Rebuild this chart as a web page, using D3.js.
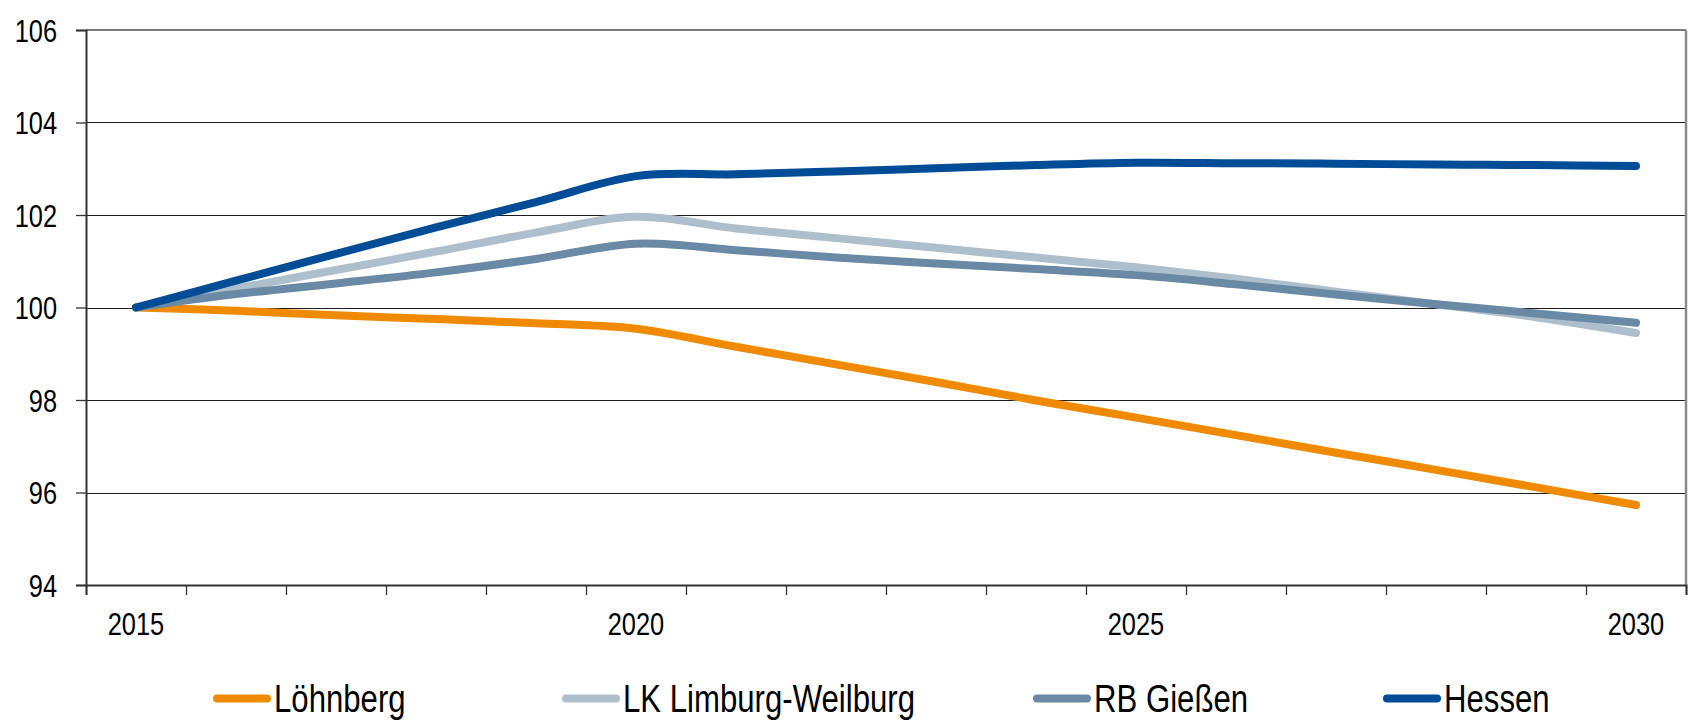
<!DOCTYPE html>
<html>
<head>
<meta charset="utf-8">
<script src="https://cdn.jsdelivr.net/npm/d3@7"></script>
<style>
  html, body { margin: 0; padding: 0; background: #fff; }
  svg { display: block; }
</style>
</head>
<body>
<svg id="chart" width="1690" height="721"></svg>
<script>
// ---------- data ----------
const years = [2015,2016,2017,2018,2019,2020,2021,2022,2023,2024,2025,2026,2027,2028,2029,2030];
const yearLabels = [2015, 2020, 2025, 2030];
const yTicks = [94, 96, 98, 100, 102, 104, 106];
const seriesNames = ["Löhnberg", "LK Limburg-Weilburg", "RB Gießen", "Hessen"];
const loehnberg = [100, 99.93, 99.83, 99.75, 99.66, 99.54, 99.15, 98.77, 98.39, 97.99, 97.62, 97.24, 96.86, 96.49, 96.11, 95.73];
const limburg   = [100, 100.41, 100.81, 101.21, 101.62, 101.96, 101.71, 101.50, 101.29, 101.08, 100.87, 100.62, 100.34, 100.07, 99.79, 99.45];
const giessen   = [100, 100.29, 100.52, 100.76, 101.05, 101.38, 101.24, 101.08, 100.95, 100.83, 100.70, 100.50, 100.28, 100.07, 99.87, 99.67];
const hessen    = [100, 100.58, 101.16, 101.73, 102.28, 102.84, 102.88, 102.94, 103.01, 103.08, 103.13, 103.12, 103.11, 103.09, 103.08, 103.06];
const seriesValues = [loehnberg, limburg, giessen, hessen];
const seriesColors = ["#F08A00", "#ADBFCD", "#6A89A4", "#004C96"];

// ---------- layout ----------
const plot = { left: 86, right: 1686, top: 30, bottom: 585 };
const legendX = [213, 562, 1033, 1383];   // left edge of each legend item
const legendY = 698.5;
const legendLineLen = 58;

const svg = d3.select("#chart");

// condensed look: Liberation Sans squeezed horizontally (Arial Narrow = 82% width)
const FONT = '"Liberation Sans", Arial, sans-serif';
const SX = 0.82;

function styleText(sel, size) {
  sel.style("font-family", FONT).style("font-size", size + "px").attr("fill", "#000");
}

// ---------- scales ----------
const x = d3.scaleBand().domain(years).range([plot.left, plot.right]).padding(0);
const xc = d => x(d) + x.bandwidth() / 2;
const xEdge = d3.scaleLinear().domain([years[0] - 0.5, years[years.length - 1] + 0.5]).range([plot.left, plot.right]);
const y = d3.scaleLinear().domain([94, 106]).range([plot.bottom, plot.top]);

// ---------- gridlines ----------
svg.append("g")
  .selectAll("line")
  .data(yTicks.filter(v => v > 94 && v < 106))
  .join("line")
  .attr("x1", plot.left).attr("x2", plot.right)
  .attr("y1", d => Math.round(y(d)) + 0.5).attr("y2", d => Math.round(y(d)) + 0.5)
  .attr("stroke", "#1e1e1e").attr("stroke-width", 1.1);

// plot border (top & right)
svg.append("line").attr("x1", plot.left).attr("x2", plot.right).attr("y1", y(106)).attr("y2", y(106))
  .attr("stroke", "#7a7a7a").attr("stroke-width", 2);
svg.append("line").attr("x1", plot.right).attr("x2", plot.right).attr("y1", y(106)).attr("y2", y(94))
  .attr("stroke", "#8a8a8a").attr("stroke-width", 2.5);

// ---------- y axis ----------
const yAxisG = svg.append("g").attr("transform", `translate(${plot.left},0)`)
  .call(d3.axisLeft(y).tickValues(yTicks).tickSize(10).tickPadding(19).tickFormat(d3.format("d")));
yAxisG.select(".domain").attr("stroke", "#333").attr("stroke-width", 2);
yAxisG.selectAll(".tick line").attr("stroke", "#333").attr("stroke-width", 1.3);
yAxisG.selectAll(".tick text").each(function () {
  const t = d3.select(this);
  styleText(t, 31);
  t.attr("x", -29 / SX).attr("dy", "0.36em").attr("transform", `scale(${SX},1)`);
});

// ---------- x axis: tick marks at category boundaries ----------
const edges = d3.range(years[0] - 0.5, years[years.length - 1] + 1, 1);
const xTickG = svg.append("g").attr("transform", `translate(0,${plot.bottom})`)
  .call(d3.axisBottom(xEdge).tickValues(edges).tickSize(10).tickFormat(""));
xTickG.select(".domain").attr("stroke", "#333").attr("stroke-width", 2);
xTickG.selectAll(".tick line").attr("stroke", "#333").attr("stroke-width", 1.3);

// x labels
const xLabG = svg.append("g").attr("transform", `translate(0,${plot.bottom})`)
  .call(d3.axisBottom(x).tickValues(yearLabels).tickSize(0).tickPadding(0).tickFormat(d3.format("d")));
xLabG.select(".domain").remove();
xLabG.selectAll(".tick").each(function () {
  const t = d3.select(this).select("text");
  styleText(t, 31);
  t.attr("y", 0).attr("dy", 0).attr("x", 0).attr("transform", `translate(0,50) scale(${SX},1)`);
});

// ---------- lines ----------
const lineGen = d3.line()
  .x((d, i) => xc(years[i]))
  .y(d => y(d))
  .curve(d3.curveCardinal.tension(0));

svg.append("g")
  .selectAll("path")
  .data(seriesValues)
  .join("path")
  .attr("d", d => lineGen(d))
  .attr("fill", "none")
  .attr("stroke", (d, i) => seriesColors[i])
  .attr("stroke-width", 8)
  .attr("stroke-linecap", "round")
  .attr("stroke-linejoin", "round");

// ---------- legend ----------
const leg = svg.append("g");
seriesNames.forEach((name, i) => {
  const x0 = legendX[i];
  leg.append("line")
    .attr("x1", x0 + 4).attr("x2", x0 + legendLineLen - 4)
    .attr("y1", legendY).attr("y2", legendY)
    .attr("stroke", seriesColors[i]).attr("stroke-width", 8).attr("stroke-linecap", "round");
  const t = leg.append("text").text(name);
  styleText(t, 38);
  const tx = x0 + legendLineLen + 3, ty = 711.5;
  t.attr("transform", `translate(${tx},${ty}) scale(${SX},1)`);
});
</script>
</body>
</html>
